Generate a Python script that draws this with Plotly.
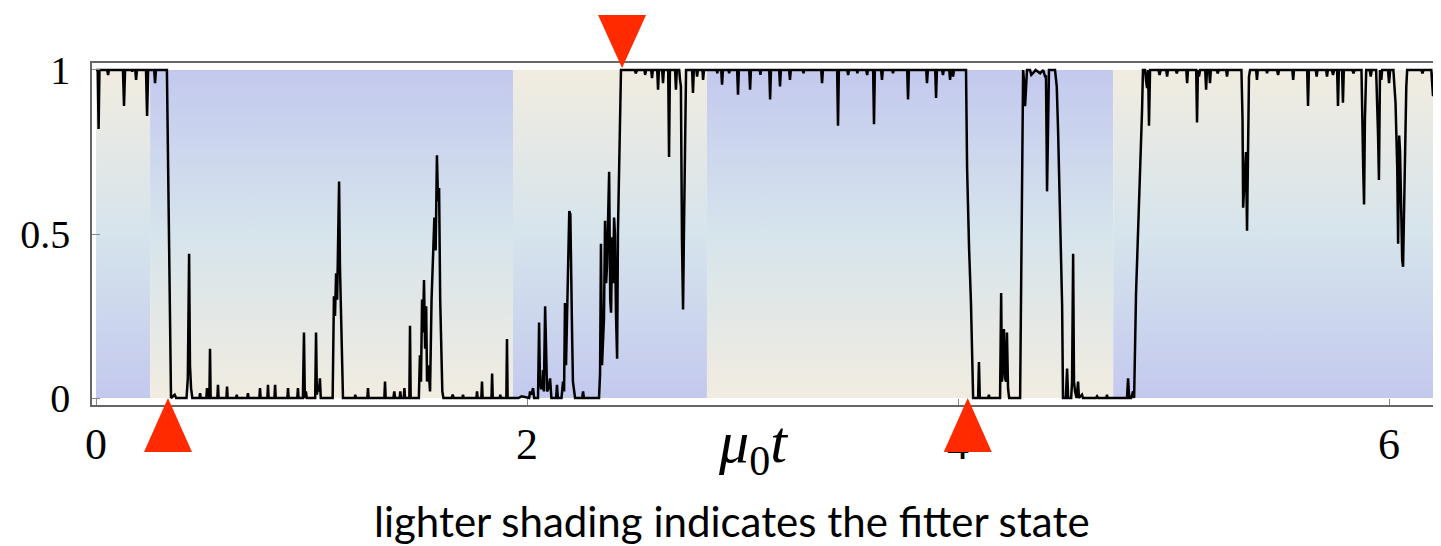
import plotly.graph_objects as go

# ---- data: fraction of population vs mu0*t ----
time = [
    0.000, 0.008, 0.012, 0.016, 0.052, 0.056, 0.060, 0.125, 0.130, 0.135, 0.165, 0.168, 0.171,
    0.182, 0.186, 0.190, 0.232, 0.237, 0.242, 0.270, 0.274, 0.278, 0.329, 0.334, 0.348,
    0.365, 0.372, 0.420, 0.426, 0.432, 0.436, 0.441, 0.447, 0.480, 0.483, 0.486, 0.512, 0.515, 0.518,
    0.526, 0.529, 0.532, 0.563, 0.566, 0.569, 0.605, 0.608, 0.611, 0.650, 0.653, 0.656,
    0.702, 0.705, 0.708, 0.758, 0.761, 0.764, 0.795, 0.798, 0.801, 0.828, 0.831, 0.834,
    0.888, 0.891, 0.894, 0.934, 0.937, 0.940, 0.960, 0.965, 0.969, 0.974, 0.978,
    1.017, 1.021, 1.025, 1.030, 1.035, 1.039, 1.043, 1.098, 1.104, 1.109, 1.114, 1.119, 1.124,
    1.128, 1.132, 1.137, 1.146, 1.200, 1.203, 1.206, 1.259, 1.262, 1.265, 1.338, 1.341, 1.344,
    1.380, 1.384, 1.388, 1.409, 1.412, 1.415, 1.428, 1.431, 1.434, 1.454, 1.457, 1.460,
    1.498, 1.503, 1.508, 1.513, 1.517, 1.522, 1.527, 1.532, 1.536, 1.542, 1.550, 1.557, 1.564,
    1.570, 1.576, 1.582, 1.587, 1.592, 1.597, 1.601, 1.607, 1.612, 1.650, 1.655, 1.660,
    1.700, 1.703, 1.706, 1.765, 1.768, 1.771, 1.788, 1.791, 1.794, 1.835, 1.838, 1.841,
    1.873, 1.876, 1.879, 1.904, 1.907, 1.910,
    1.960, 1.975, 2.010, 2.014, 2.020, 2.028, 2.033, 2.051, 2.056, 2.060, 2.065, 2.070, 2.074,
    2.078, 2.084, 2.089, 2.093, 2.100, 2.107, 2.113, 2.135, 2.139, 2.143, 2.160, 2.167, 2.172,
    2.176, 2.181, 2.186, 2.190, 2.196, 2.201, 2.206, 2.209, 2.213, 2.223, 2.256, 2.260, 2.264,
    2.334, 2.339, 2.343, 2.348, 2.353, 2.357, 2.362, 2.367, 2.371, 2.376, 2.381, 2.386, 2.390,
    2.395, 2.399, 2.404, 2.408, 2.413, 2.418, 2.422, 2.427, 2.436, 2.500, 2.505, 2.510,
    2.545, 2.548, 2.552, 2.576, 2.580, 2.584, 2.604, 2.608, 2.612, 2.627, 2.631, 2.635,
    2.655, 2.659, 2.663, 2.687, 2.691, 2.695, 2.706, 2.710, 2.714, 2.719, 2.724, 2.729, 2.733,
    2.738, 2.742, 2.766, 2.770, 2.774, 2.786, 2.789, 2.793, 2.814, 2.817, 2.821,
    2.880, 2.883, 2.886, 2.901, 2.905, 2.909, 2.935, 2.938, 2.941, 2.975, 2.979, 2.983,
    3.031, 3.035, 3.039, 3.080, 3.083, 3.086, 3.124, 3.128, 3.132, 3.170, 3.174, 3.178,
    3.216, 3.220, 3.224, 3.280, 3.283, 3.286, 3.365, 3.369, 3.373, 3.439, 3.443, 3.447,
    3.486, 3.490, 3.494, 3.530, 3.533, 3.536, 3.574, 3.578, 3.582, 3.606, 3.610, 3.614,
    3.643, 3.647, 3.651, 3.694, 3.698, 3.702, 3.764, 3.768, 3.772, 3.852, 3.856, 3.860,
    3.894, 3.898, 3.902, 3.926, 3.930, 3.934, 3.959, 3.963, 3.967, 3.973, 3.977, 3.981,
    4.037, 4.042, 4.051, 4.060, 4.070, 4.093, 4.097, 4.101, 4.140, 4.143, 4.146,
    4.195, 4.200, 4.204, 4.209, 4.213, 4.218, 4.223, 4.227, 4.232, 4.237, 4.288, 4.302,
    4.307, 4.311, 4.316, 4.320, 4.334, 4.340, 4.348, 4.360, 4.381, 4.395, 4.404, 4.408,
    4.413, 4.418, 4.422, 4.450, 4.458, 4.464, 4.472, 4.483, 4.487, 4.500, 4.506, 4.511,
    4.525, 4.529, 4.534, 4.538, 4.543, 4.550, 4.557, 4.561, 4.575, 4.580, 4.640, 4.645, 4.650,
    4.688, 4.691, 4.694,
    4.784, 4.789, 4.794, 4.803, 4.812, 4.817, 4.826, 4.835, 4.840, 4.849, 4.854, 4.858,
    4.868, 4.872, 4.877, 4.882, 4.886, 4.891, 4.930, 4.935, 4.940, 4.966, 4.970, 4.974,
    5.010, 5.015, 5.020, 5.059, 5.063, 5.067, 5.105, 5.109, 5.113, 5.118, 5.123,
    5.147, 5.151, 5.155, 5.165, 5.169, 5.173, 5.200, 5.205, 5.210, 5.244, 5.248, 5.252,
    5.315, 5.320, 5.323, 5.330, 5.336, 5.341, 5.346, 5.350, 5.355, 5.383, 5.387, 5.391,
    5.430, 5.434, 5.438, 5.480, 5.485, 5.490, 5.551, 5.555, 5.559, 5.620, 5.624, 5.628,
    5.660, 5.664, 5.668, 5.708, 5.712, 5.716, 5.735, 5.740, 5.745, 5.759, 5.763, 5.767,
    5.782, 5.786, 5.790, 5.830, 5.835, 5.840, 5.872, 5.876, 5.880, 5.884, 5.888, 5.894,
    5.910, 5.915, 5.920, 5.940, 5.945, 5.949, 5.953, 5.958, 5.964, 5.968, 5.995, 6.000, 6.005,
    6.020, 6.030, 6.038, 6.042, 6.047, 6.051, 6.056, 6.061, 6.065, 6.070, 6.074, 6.080, 6.084,
    6.150, 6.155, 6.160, 6.196, 6.200, 6.204, 6.210, 6.222, 6.227, 6.232, 6.245,
]
fraction = [
    1.00, 1.00, 0.82, 1.00, 1.00, 0.985, 1.00, 1.00, 0.89, 1.00, 1.00, 0.995, 1.00,
    1.00, 0.97, 1.00, 1.00, 0.86, 1.00, 1.00, 0.96, 1.00, 1.00, 0.75, 0.00,
    0.01, 0.00, 0.00, 0.06, 0.44, 0.10, 0.03, 0.00, 0.00, 0.015, 0.00, 0.00, 0.03, 0.00,
    0.00, 0.15, 0.00, 0.00, 0.04, 0.00, 0.00, 0.035, 0.00, 0.00, 0.01, 0.00,
    0.00, 0.015, 0.00, 0.00, 0.03, 0.00, 0.00, 0.04, 0.00, 0.00, 0.04, 0.00,
    0.00, 0.03, 0.00, 0.00, 0.03, 0.00, 0.00, 0.20, 0.00, 0.02, 0.00,
    0.00, 0.20, 0.01, 0.04, 0.02, 0.06, 0.00, 0.00, 0.31, 0.25, 0.38, 0.30, 0.45,
    0.66, 0.40, 0.22, 0.00, 0.00, 0.01, 0.00, 0.00, 0.03, 0.00, 0.00, 0.05, 0.00,
    0.00, 0.02, 0.00, 0.00, 0.02, 0.00, 0.00, 0.03, 0.00, 0.00, 0.22, 0.00,
    0.00, 0.13, 0.05, 0.30, 0.20, 0.36, 0.15, 0.28, 0.05, 0.10, 0.02, 0.30, 0.44,
    0.55, 0.45, 0.74, 0.60, 0.64, 0.30, 0.15, 0.02, 0.00, 0.00, 0.01, 0.00,
    0.00, 0.01, 0.00, 0.00, 0.02, 0.00, 0.00, 0.05, 0.00, 0.00, 0.075, 0.00,
    0.00, 0.01, 0.00, 0.00, 0.18, 0.00,
    0.00, 0.005, 0.00, 0.02, 0.01, 0.03, 0.00, 0.00, 0.23, 0.05, 0.03, 0.03, 0.085,
    0.02, 0.28, 0.05, 0.02, 0.03, 0.06, 0.00, 0.00, 0.04, 0.00, 0.00, 0.05, 0.02,
    0.29, 0.10, 0.30, 0.40, 0.57, 0.56, 0.40, 0.20, 0.05, 0.00, 0.00, 0.02, 0.00,
    0.00, 0.075, 0.47, 0.10, 0.16, 0.24, 0.54, 0.35, 0.40, 0.62, 0.69, 0.30, 0.26,
    0.49, 0.35, 0.55, 0.50, 0.25, 0.12, 0.51, 0.72, 1.00, 1.00, 0.99, 1.00,
    1.00, 0.985, 1.00, 1.00, 0.975, 1.00, 1.00, 0.94, 1.00, 1.00, 0.96, 1.00,
    1.00, 0.735, 1.00, 1.00, 0.94, 1.00, 1.00, 0.97, 0.95, 0.48, 0.27, 0.55, 0.86,
    1.00, 1.00, 1.00, 0.93, 1.00, 1.00, 0.98, 1.00, 1.00, 0.97, 1.00,
    1.00, 0.99, 1.00, 1.00, 0.955, 1.00, 1.00, 0.99, 1.00, 1.00, 0.925, 1.00,
    1.00, 0.94, 1.00, 1.00, 0.985, 1.00, 1.00, 0.91, 1.00, 1.00, 0.95, 1.00,
    1.00, 0.97, 1.00, 1.00, 0.99, 1.00, 1.00, 0.96, 1.00, 1.00, 0.83, 1.00,
    1.00, 0.985, 1.00, 1.00, 0.99, 1.00, 1.00, 0.985, 1.00, 1.00, 0.835, 1.00,
    1.00, 0.97, 1.00, 1.00, 0.99, 1.00, 1.00, 0.91, 1.00, 1.00, 0.96, 1.00,
    1.00, 0.915, 1.00, 1.00, 0.985, 1.00, 1.00, 0.97, 1.00, 1.00, 0.98, 1.00,
    1.00, 0.70, 0.46, 0.29, 0.00, 0.00, 0.11, 0.00, 0.00, 0.01, 0.00,
    0.00, 0.32, 0.05, 0.12, 0.21, 0.06, 0.05, 0.20, 0.03, 0.00, 0.00, 1.00,
    0.96, 0.89, 0.97, 1.00, 1.00, 0.985, 0.99, 1.00, 0.99, 1.00, 0.98, 0.98,
    0.63, 0.95, 1.00, 1.00, 0.95, 0.82, 0.60, 0.28, 0.00, 0.00, 0.09, 0.00,
    0.00, 0.05, 0.44, 0.05, 0.02, 0.00, 0.05, 0.00, 0.01, 0.00, 0.00, 0.005, 0.00,
    0.00, 0.01, 0.00,
    0.00, 0.06, 0.00, 0.00, 0.02, 0.00, 0.32, 0.50, 0.625, 0.75, 0.88, 1.00,
    1.00, 0.97, 0.945, 1.00, 0.83, 1.00, 1.00, 0.985, 1.00, 1.00, 0.98, 1.00,
    1.00, 0.99, 1.00, 1.00, 0.96, 1.00, 1.00, 0.84, 1.00, 0.98, 1.00,
    1.00, 0.94, 1.00, 1.00, 0.96, 1.00, 1.00, 0.99, 1.00, 1.00, 0.98, 1.00,
    1.00, 0.85, 0.58, 0.70, 0.75, 0.51, 0.85, 0.98, 1.00, 1.00, 0.97, 1.00,
    1.00, 0.99, 1.00, 1.00, 0.985, 1.00, 1.00, 0.97, 1.00, 1.00, 0.89, 1.00,
    1.00, 0.98, 1.00, 1.00, 0.98, 1.00, 1.00, 0.985, 1.00, 1.00, 0.89, 1.00,
    1.00, 0.90, 1.00, 1.00, 0.99, 1.00, 1.00, 0.80, 0.70, 0.59, 0.85, 1.00,
    1.00, 0.98, 1.00, 1.00, 0.90, 0.80, 0.665, 1.00, 0.97, 1.00, 1.00, 0.96, 1.00,
    1.00, 0.90, 0.70, 0.47, 0.80, 0.75, 0.55, 0.42, 0.40, 0.60, 0.765, 0.95, 1.00,
    1.00, 0.99, 1.00, 1.00, 0.95, 0.92, 1.00, 1.00, 0.84, 1.00, 1.00,
]

# shading bands (environment state); "cream" = lighter shading at the top
band_edges = [0.0, 0.251, 1.935, 2.835, 4.72, 6.245]
band_top = ["cream", "blue", "cream", "blue", "cream"]

# switch markers
switch_up = [0.334, 4.045]
switch_down = [2.441]

x_ticks = [0, 2, 4, 6]
x_ticktext = ["0", "2", "4", "6"]
y_ticks = [0, 0.5, 1]
y_ticktext = ["0", "0.5", "1"]

CREAM = "#F1ECE0"
MID = "#D6E4EC"
LAV = "#C3C9EE"
RED = "#FF2A00"

fig = go.Figure()

for i, top in enumerate(band_top):
    x0, x1 = band_edges[i], band_edges[i + 1]
    if top == "cream":
        cs = [[0, LAV], [0.5, MID], [1, CREAM]]
    else:
        cs = [[0, CREAM], [0.5, MID], [1, LAV]]
    fig.add_trace(go.Scatter(
        x=[x0, x1, x1, x0, x0], y=[0, 0, 1, 1, 0],
        mode="lines", fill="toself", line=dict(width=0),
        fillgradient=dict(type="vertical", colorscale=cs),
        hoverinfo="skip", showlegend=False,
    ))

fig.add_trace(go.Scatter(
    x=time, y=fraction, mode="lines",
    line=dict(color="black", width=2.5),
    showlegend=False, hoverinfo="skip",
))

shapes = []
for t in switch_up:
    shapes.append(dict(
        type="path", xref="x", xsizemode="pixel", xanchor=t,
        yref="paper", ysizemode="pixel", yanchor=0,
        path="M 0 7 L -24 -47 L 24 -47 Z",
        fillcolor=RED, line=dict(width=0), layer="above",
    ))
for t in switch_down:
    shapes.append(dict(
        type="path", xref="x", xsizemode="pixel", xanchor=t,
        yref="paper", ysizemode="pixel", yanchor=1,
        path="M 0 -5 L -24 48 L 24 48 Z",
        fillcolor=RED, line=dict(width=0), layer="above",
    ))

# note: the page body adds an 8px offset, so the figure is sized/margined to compensate
fig.update_layout(
    width=1433, height=538,
    margin=dict(l=84, r=0, t=55, b=141),
    paper_bgcolor="white", plot_bgcolor="white",
    shapes=shapes,
    xaxis=dict(
        range=[-0.0186, 6.241], tickvals=x_ticks, ticktext=x_ticktext,
        ticks="inside", ticklen=6, tickcolor="#888", tickwidth=1,
        showline=True, linecolor="#666", linewidth=1.5, mirror=True,
        showgrid=False, zeroline=False,
        tickfont=dict(family="Liberation Serif", size=44, color="black"),
        ticklabelstandoff=-1,
    ),
    yaxis=dict(
        range=[-0.0213, 1.0213], tickvals=y_ticks, ticktext=y_ticktext,
        ticks="inside", ticklen=8, tickcolor="#888", tickwidth=1,
        showline=True, linecolor="#666", linewidth=1.5, mirror=False,
        showgrid=False, zeroline=False,
        tickfont=dict(family="Liberation Serif", size=40, color="black"),
        ticklabelstandoff=12,
    ),
    annotations=[
        dict(text="<i>μ</i><sub>0</sub><i>t</i>", xref="paper", yref="paper",
             x=0.49, y=-0.12, xanchor="center", yanchor="middle", showarrow=False,
             font=dict(family="Liberation Serif", size=60, color="black")),
        dict(text="lighter shading indicates the fitter state", xref="paper", yref="paper",
             x=0.4744, y=-0.34, xanchor="center", yanchor="middle", showarrow=False,
             font=dict(family="Lato", size=42, color="black")),
    ],
)

fig.write_html("out.html")
